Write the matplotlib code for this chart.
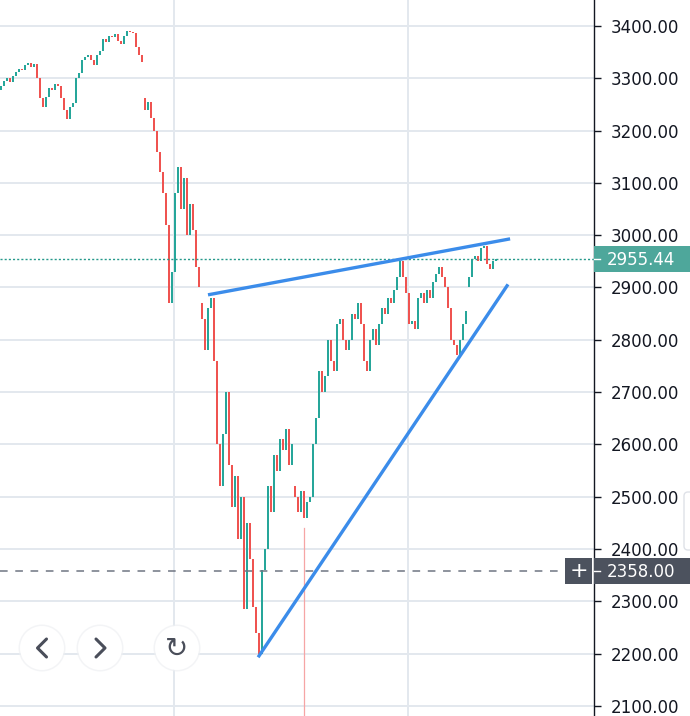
import matplotlib.pyplot as plt
from matplotlib.patches import Rectangle, Circle, FancyBboxPatch

# closes, one candle every ~3 px
closes = [3285, 3295, 3300, 3292, 3305, 3312, 3318, 3315, 3325, 3330,
          3322, 3328, 3300, 3262, 3245, 3265, 3282, 3278, 3290, 3285,
          3262, 3240, 3222, 3245, 3252, 3300, 3310, 3335, 3340, 3345,
          3335, 3325, 3345, 3352, 3375, 3370, 3380, 3378, 3385, 3372,
          3365, 3380, 3390, 3388, 3386, 3360, 3345, 3332,
          3240, 3255, 3225, 3200, 3160, 3120, 3080, 3020, 2870, 2930,
          3080, 3130, 3050, 3110, 3000, 3060, 3010, 2940, 2900,
          2840, 2780, 2860, 2880, 2760, 2600, 2520, 2620, 2700, 2560,
          2480, 2540, 2420, 2500, 2285, 2450, 2380, 2290, 2240, 2200,
          2360, 2400, 2520, 2470, 2580, 2550, 2610, 2590, 2630, 2560, 2600,
          2500, 2470, 2510, 2460, 2490, 2500, 2600, 2650, 2740, 2700,
          2730, 2800, 2760, 2740, 2830, 2840, 2800, 2780, 2800, 2850,
          2840, 2870, 2830, 2760, 2740, 2800, 2820, 2790, 2830, 2860,
          2850, 2880, 2870, 2895, 2920, 2950, 2920, 2890, 2830, 2835,
          2820, 2880, 2890, 2870, 2895, 2880, 2910, 2925, 2940, 2920,
          2900, 2860, 2800, 2790, 2770, 2800, 2830, 2855,
          2920, 2955, 2960, 2950, 2975, 2980, 2945, 2935, 2950, 2955.44]
first_open = 3278
# price gaps: candle index -> open
gap_opens = {48: 3262, 67: 2870, 98: 2520, 156: 2900}

last_price = 2955.44
crosshair_price = 2358.00
upper_trend = [(69, 2886), (169.7, 2993)]   # (candle index, price)
lower_trend = [(85.7, 2193), (169, 2906)]
price_ticks = list(range(2100, 3401, 100))

UP, DOWN = '#26a69a', '#ef5350'
GRID = '#e3e8ee'
TXT = '#131722'

def xpos(i):
    return 1 + 3 * i

fig = plt.figure(figsize=(6.9, 7.16), dpi=100)
ax = fig.add_axes([0, 0, 594 / 690, 1])
ax.set_xlim(0, 594)
ax.set_ylim(2080.7, 3449.7)

for p in price_ticks:
    ax.axhline(p, color=GRID, lw=1.4, zorder=0)
for gx in (174, 408):
    ax.axvline(gx, color=GRID, lw=1.4, zorder=0)

prev = first_open
for i, c in enumerate(closes):
    o = gap_opens.get(i, prev)
    col = UP if c >= o else DOWN
    lo, hi = min(o, c), max(o, c)
    ax.bar(xpos(i), max(hi - lo, 2), bottom=lo, width=2.3, color=col,
           linewidth=0, zorder=2)
    prev = c

# vertical pink crosshair piece
ax.plot([304, 304], [2080, 2440], color='#f6a5a5', lw=0.9, zorder=1)

for tl in (upper_trend, lower_trend):
    ax.plot([xpos(tl[0][0]), xpos(tl[1][0])], [tl[0][1], tl[1][1]],
            color='#3b8cea', lw=2.4, solid_capstyle='butt', zorder=4)

ax.axhline(last_price, color='#26998b', lw=1, ls=(0, (1.5, 1.5)), zorder=3)
ax.axhline(crosshair_price, color='#6f7582', lw=1.1, ls=(0, (5, 5)), zorder=3)

ax.yaxis.tick_right()
ax.set_yticks(price_ticks)
ax.set_yticklabels(['%.2f' % p for p in price_ticks])
ax.tick_params(axis='y', length=5, width=1, color=TXT, labelcolor=TXT,
               labelsize=12, pad=7)
ax.set_xticks([])
for s in ('left', 'top', 'bottom'):
    ax.spines[s].set_visible(False)
ax.spines['right'].set_color(TXT)
ax.spines['right'].set_linewidth(1)

# overlay in pixel coordinates
ov = fig.add_axes([0, 0, 1, 1], zorder=10)
ov.set_xlim(0, 690)
ov.set_ylim(716, 0)
ov.axis('off')

def ypx(p):
    return 26 + (3400 - p) * 0.523

yl = ypx(last_price)
ov.add_patch(Rectangle((594, yl - 13), 96, 26, color='#4ea79b', lw=0))
ov.plot([594, 600], [yl, yl], color='white', lw=1)
ov.text(607, yl + 1, '%.2f' % last_price, color='white', fontsize=12,
        va='center', ha='left')

yc = ypx(crosshair_price)
ov.add_patch(Rectangle((594, yc - 13), 96, 26, color='#4c525e', lw=0))
ov.add_patch(Rectangle((565, yc - 13), 27, 26, color='#4c525e', lw=0))
ov.plot([594, 600], [yc, yc], color='white', lw=1)
ov.text(607, yc + 1, '%.2f' % crosshair_price, color='white', fontsize=12,
        va='center', ha='left')
ov.text(578.5, yc, '+', color='white', fontsize=16, va='center', ha='center')

# small panel edge at the right border
ov.add_patch(FancyBboxPatch((684, 492), 20, 58, boxstyle='round,pad=0,rounding_size=4',
                            fc='white', ec='#dfe2e8', lw=1))

# navigation buttons
for cx in (42, 100, 177):
    ov.add_patch(Circle((cx, 648), 23.5, fc='#eef0f3', ec='none', alpha=0.7))
    ov.add_patch(Circle((cx, 648), 22, fc='white', ec='none'))
ICON = '#4a4e5a'
ov.plot([46.5, 37.5, 46.5], [639, 648, 657], color=ICON, lw=2.2,
        solid_capstyle='round', solid_joinstyle='round')
ov.plot([96, 105, 96], [639, 648, 657], color=ICON, lw=2.2,
        solid_capstyle='round', solid_joinstyle='round')
ov.text(177, 649, '\u21bb', fontsize=20, color=ICON, ha='center', va='center',
        family='DejaVu Sans')

fig.savefig('out.png', dpi=100, facecolor='white')
